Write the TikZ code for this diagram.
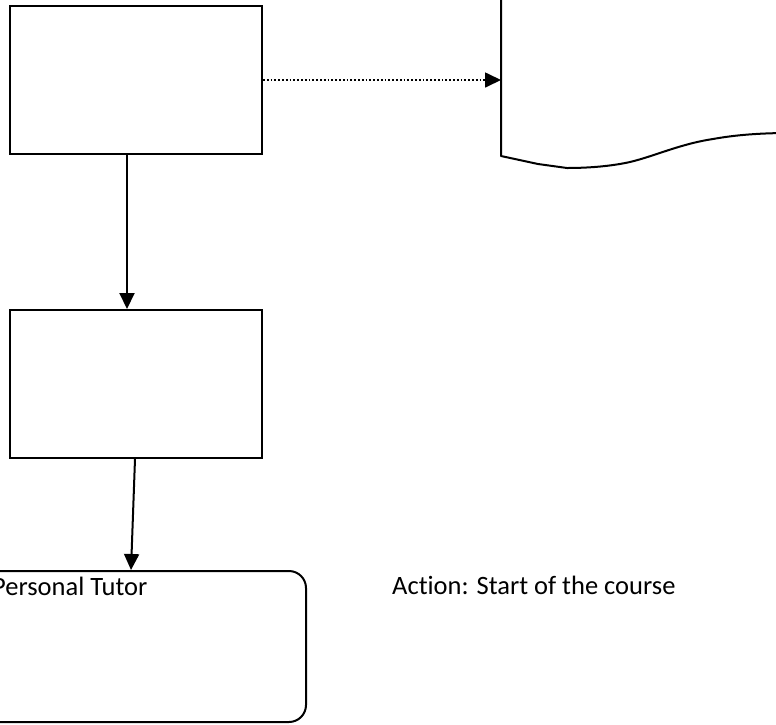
\documentclass[tikz,border=0pt]{standalone}
\usepackage{fontspec}
\setmainfont{Carlito}[Ligatures={NoCommon}]
\usetikzlibrary{arrows.meta}
\begin{document}
\begin{tikzpicture}[x=1pt,y=-1pt,
  stepbox/.style={draw=black, line width=2pt, minimum width=252pt, minimum height=148pt, inner sep=0pt},
  roundbox/.style={draw=black, line width=2pt, rounded corners=17pt, minimum width=346pt, minimum height=151pt, inner sep=0pt},
  arr/.style={line width=2pt, -{Triangle[length=16pt,width=15pt]}},
  dotarr/.style={line width=1.7pt, dash pattern=on 1.7pt off 2.1pt, -{Triangle[length=16pt,width=15pt]}},
  label/.style={inner sep=0pt, font=\fontsize{26.5}{32}\selectfont}]
\path[use as bounding box, clip] (0,0) rectangle (776,724);

% process boxes
\node[stepbox] (b1) at (136,80) {};
\node[stepbox] (b2) at (136,384) {};
\node[roundbox] (b3) at (133,646.5) {};

% document shape, running past the top and right edges
\draw[line width=2pt, line join=round]
  (501,-20) -- (501,156) -- (538,164) -- (567,168)
  .. controls (590,168) and (612,166) .. (630,162)
  .. controls (655,156) and (680,144) .. (713,139)
  .. controls (735,135) and (760,133) .. (790,133);
\coordinate (docin) at (501,80);

% connectors
\draw[arr] ([xshift=-9pt]b1.south) -- ([xshift=-9pt]b2.north);
\draw[arr] ([xshift=-1pt]b2.south) -- ([xshift=-2pt]b3.north);
\draw[dotarr] (b1.east) -- (docin);

% texts
\node[label, anchor=base west] (tutor) at (-8,595) {Personal Tutor};
\node[label, anchor=base west] (action) at (392,594) {Action: Start of the course};
\end{tikzpicture}
\end{document}
